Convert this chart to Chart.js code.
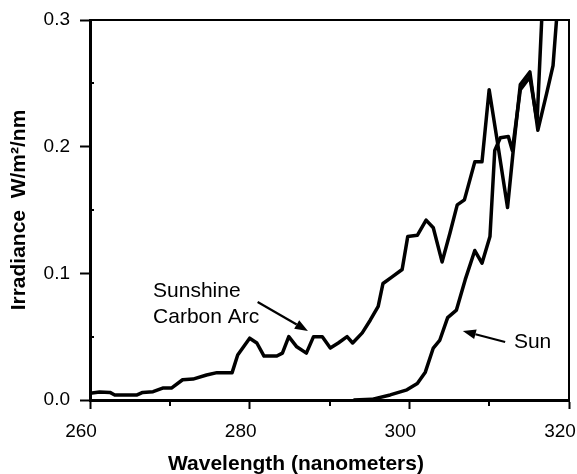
<!DOCTYPE html>
<html>
<head>
<meta charset="utf-8">
<script src="https://cdn.jsdelivr.net/npm/chart.js@4.4.0/dist/chart.umd.min.js"></script>
<style>
  html, body { margin: 0; padding: 0; background: #fff; }
  #wrap { width: 577px; height: 474px; }
</style>
</head>
<body>
<div id="wrap"><canvas id="chart" width="577" height="474"></canvas></div>
<script>
// Sunshine carbon arc vs. sun, UV irradiance (W/m2/nm)
const arcWavelength = [260, 261.2, 262.5, 263.1, 265.9, 266.6, 267.9, 269.1, 270.2, 271.6,
  272.9, 274.6, 275.9, 277.8, 278.5, 280.0, 280.9, 281.8, 283.4, 284.1,
  284.9, 285.9, 287.1, 288.0, 289.1, 290.1, 291.1, 292.2, 292.9, 294.1,
  295.1, 296.1, 296.7, 297.8, 299.1, 299.8, 301.0, 302.1, 303.0, 304.1,
  305.1, 306.0, 306.9, 308.2, 309.1, 310.0, 311.0, 312.3, 313.0, 313.9,
  315.1, 316.1, 317.2, 318.0, 318.8];
const arcIrradiance = [0.0053, 0.0063, 0.006, 0.004, 0.004, 0.006, 0.0066, 0.0094, 0.0094, 0.016,
  0.0165, 0.0197, 0.0216, 0.0216, 0.0355, 0.0488, 0.045, 0.0347, 0.0347, 0.037,
  0.050, 0.042, 0.037, 0.050, 0.050, 0.041, 0.045, 0.050, 0.045, 0.053,
  0.063, 0.074, 0.092, 0.097, 0.103, 0.129, 0.130, 0.142, 0.136, 0.109,
  0.132, 0.154, 0.158, 0.188, 0.188, 0.245, 0.205, 0.152, 0.196, 0.249,
  0.259, 0.213, 0.242, 0.264, 0.33];

const sunWavelength = [293, 295.3, 297.6, 299.7, 301.0, 302.0, 303.0, 303.8, 304.8, 305.9,
  307.0, 308.2, 309.1, 310.1, 310.7, 311.4, 312.4, 312.9, 313.9, 315.1,
  316.0, 316.8];
const sunIrradiance = [0, 0.0005, 0.004, 0.008, 0.013, 0.022, 0.041, 0.047, 0.065, 0.071,
  0.095, 0.118, 0.108, 0.129, 0.197, 0.207, 0.208, 0.197, 0.245, 0.255,
  0.22, 0.33];

const xMinorTicks = [270, 290, 310];
const yMinorTicks = [0.05, 0.15, 0.25];

// callouts, in data units
const arcLabel = { lines: ['Sunshine', 'Carbon Arc'], x: 267.9, y: [0.086, 0.0655] };
const arcArrow = { from: [281.0, 0.0774], to: [287.3, 0.0545] };
const sunLabel = { text: 'Sun', x: 313.1, y: 0.0458 };
const sunArrow = { from: [312.0, 0.0458], to: [306.7, 0.0545] };

const FONT = '"Liberation Sans", Arial, Helvetica, sans-serif';

function toPoints(xs, ys) {
  return xs.map((x, i) => ({ x: x, y: ys[i] }));
}

function arrow(ctx, x1, y1, x2, y2) {
  const ang = Math.atan2(y2 - y1, x2 - x1);
  const len = 13, half = 5;
  const bx = x2 - len * Math.cos(ang), by = y2 - len * Math.sin(ang);
  ctx.beginPath();
  ctx.moveTo(x1, y1);
  ctx.lineTo(bx, by);
  ctx.stroke();
  ctx.beginPath();
  ctx.moveTo(x2, y2);
  ctx.lineTo(bx + half * Math.sin(ang), by - half * Math.cos(ang));
  ctx.lineTo(bx - half * Math.sin(ang), by + half * Math.cos(ang));
  ctx.closePath();
  ctx.fill();
}

const extras = {
  id: 'extras',
  afterDraw(chart) {
    const ctx = chart.ctx;
    const xs = chart.scales.x, ys = chart.scales.y;
    const a = chart.chartArea;
    ctx.save();
    ctx.strokeStyle = '#000';
    ctx.fillStyle = '#000';

    // top and right frame
    ctx.lineWidth = 2;
    ctx.beginPath();
    ctx.moveTo(a.left, a.top);
    ctx.lineTo(a.right, a.top);
    ctx.lineTo(a.right, a.bottom);
    ctx.stroke();

    // minor ticks
    xMinorTicks.forEach(v => {
      const px = Math.round(xs.getPixelForValue(v));
      ctx.beginPath();
      ctx.moveTo(px, a.bottom);
      ctx.lineTo(px, a.bottom + 6);
      ctx.stroke();
    });
    yMinorTicks.forEach(v => {
      const py = Math.round(ys.getPixelForValue(v));
      ctx.beginPath();
      ctx.moveTo(a.left, py);
      ctx.lineTo(a.left + 4, py);
      ctx.stroke();
    });

    // callouts
    ctx.font = '21px ' + FONT;
    ctx.textAlign = 'left';
    ctx.textBaseline = 'middle';
    arcLabel.lines.forEach((t, i) => {
      ctx.fillText(t, xs.getPixelForValue(arcLabel.x), ys.getPixelForValue(arcLabel.y[i]));
    });
    ctx.fillText(sunLabel.text, xs.getPixelForValue(sunLabel.x), ys.getPixelForValue(sunLabel.y));

    ctx.lineWidth = 2.2;
    [arcArrow, sunArrow].forEach(ar => {
      arrow(ctx,
        xs.getPixelForValue(ar.from[0]), ys.getPixelForValue(ar.from[1]),
        xs.getPixelForValue(ar.to[0]), ys.getPixelForValue(ar.to[1]));
    });

    // x axis title
    ctx.font = 'bold 21px ' + FONT;
    ctx.textAlign = 'center';
    ctx.fillText('Wavelength (nanometers)', 296, 464);
    ctx.restore();
  }
};

const tickFont = { family: FONT, size: 19 };

new Chart(document.getElementById('chart'), {
  type: 'line',
  data: {
    datasets: [
      {
        label: 'Sunshine Carbon Arc',
        data: toPoints(arcWavelength, arcIrradiance),
        borderColor: '#000',
        borderWidth: 3.5,
        borderJoinStyle: 'round',
        pointRadius: 0,
        tension: 0,
        clip: 0
      },
      {
        label: 'Sun',
        data: toPoints(sunWavelength, sunIrradiance),
        borderColor: '#000',
        borderWidth: 3.5,
        borderJoinStyle: 'round',
        pointRadius: 0,
        tension: 0,
        clip: 0
      }
    ]
  },
  options: {
    responsive: false,
    animation: false,
    devicePixelRatio: 1,
    layout: { padding: { top: 20, right: 8, left: 0, bottom: 0 } },
    plugins: { legend: { display: false }, tooltip: { enabled: false } },
    scales: {
      x: {
        type: 'linear',
        min: 260,
        max: 320,
        ticks: { stepSize: 20, labelOffset: -9, padding: 11, color: '#000', font: tickFont, maxRotation: 0 },
        grid: { drawOnChartArea: false, drawTicks: true, tickLength: 9, tickWidth: 2, tickColor: '#000' },
        border: { display: true, color: '#000', width: 3 },
        afterFit(s) { s.height = 74; s.paddingLeft = 0; s.paddingRight = 0; }
      },
      y: {
        min: 0,
        max: 0.3,
        ticks: { stepSize: 0.1, padding: 10, color: '#000', font: tickFont, callback: v => Number(v).toFixed(1) },
        grid: { drawOnChartArea: false, drawTicks: true, tickLength: 10, tickWidth: 2, tickColor: '#000' },
        border: { display: true, color: '#000', width: 3 },
        title: {
          display: true,
          text: 'Irradiance  W/m²/nm',
          color: '#000',
          font: { family: FONT, size: 21, weight: 'bold', lineHeight: 1 },
          padding: { top: 8.5, bottom: 0 }
        },
        afterFit(s) { s.width = 90; s.paddingTop = 0; s.paddingBottom = 0; }
      }
    }
  },
  plugins: [extras]
});
</script>
</body>
</html>
